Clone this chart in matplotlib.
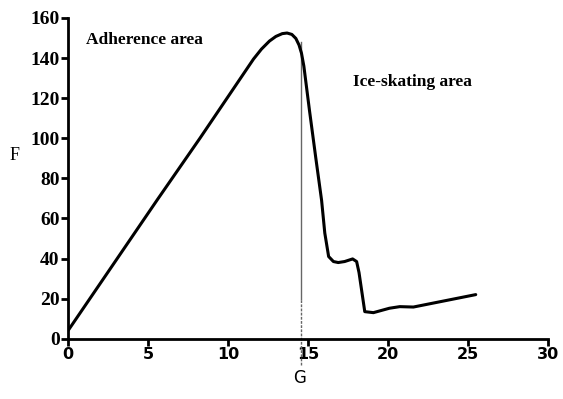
import matplotlib
matplotlib.use("Agg")
import matplotlib.pyplot as plt

G = [0, 5.6, 8.25, 11.6, 12.1, 12.6, 13.0, 13.4, 13.7, 14.0, 14.25, 14.45, 14.6, 14.75,
     15.1, 15.5, 15.86, 16.06, 16.3, 16.6, 16.9, 17.3, 17.8, 18.05, 18.2, 18.56, 19.1,
     20.1, 20.75, 21.6, 25.5]
F = [4, 69.5, 100, 139.5, 144.5, 148.5, 150.8, 152.2, 152.5, 151.8, 149.8, 146.5, 142.5, 136,
     114, 90, 69, 52.7, 41, 38.5, 38, 38.5, 39.8, 38.5, 33, 13.5, 13,
     15.2, 16, 15.8, 22]
split_G = 14.56
split_top = 148
x_ticks = [0, 5, 10, 15, 20, 25, 30]
y_ticks = [0, 20, 40, 60, 80, 100, 120, 140, 160]

fig = plt.figure(figsize=(5.63, 3.99), dpi=100)
ax = fig.add_axes([0.1208, 0.1511, 0.852, 0.8038])

ax.plot(G, F, color="black", lw=2.2, solid_joinstyle="round", solid_capstyle="round", zorder=3)
ax.plot([split_G, split_G], [20, split_top], color="#666666", lw=1.0, zorder=2)
ax.plot([split_G, split_G], [-13, 20], color="#666666", lw=1.0, ls=(0, (2, 1)),
        clip_on=False, zorder=2)

ax.set_xlim(0, 30)
ax.set_ylim(0, 160)
ax.set_xticks(x_ticks)
ax.set_yticks(y_ticks)
for s in ["top", "right"]:
    ax.spines[s].set_visible(False)
for s in ["left", "bottom"]:
    ax.spines[s].set_linewidth(2)
ax.tick_params(direction="out", length=5, width=2, pad=1)
for lab in ax.get_xticklabels():
    lab.set_fontfamily("DejaVu Sans")
    lab.set_fontweight("bold")
    lab.set_fontsize(11.5)
for lab in ax.get_yticklabels():
    lab.set_fontfamily("Liberation Serif")
    lab.set_fontweight("bold")
    lab.set_fontsize(14)

ax.text(1.1, 149, "Adherence area", family="Liberation Serif", fontweight="bold",
        fontsize=12.5, va="center", ha="left")
ax.text(17.8, 128, "Ice-skating area", family="Liberation Serif", fontweight="bold",
        fontsize=12.5, va="center", ha="left")

fig.text(15 / 563, 1 - 155 / 399, "F", family="Liberation Serif", fontsize=13,
         ha="center", va="center")
fig.text(300 / 563, 1 - 378 / 399, "G", family="DejaVu Sans", fontsize=12,
         ha="center", va="center")

fig.savefig("out.png", dpi=100)
